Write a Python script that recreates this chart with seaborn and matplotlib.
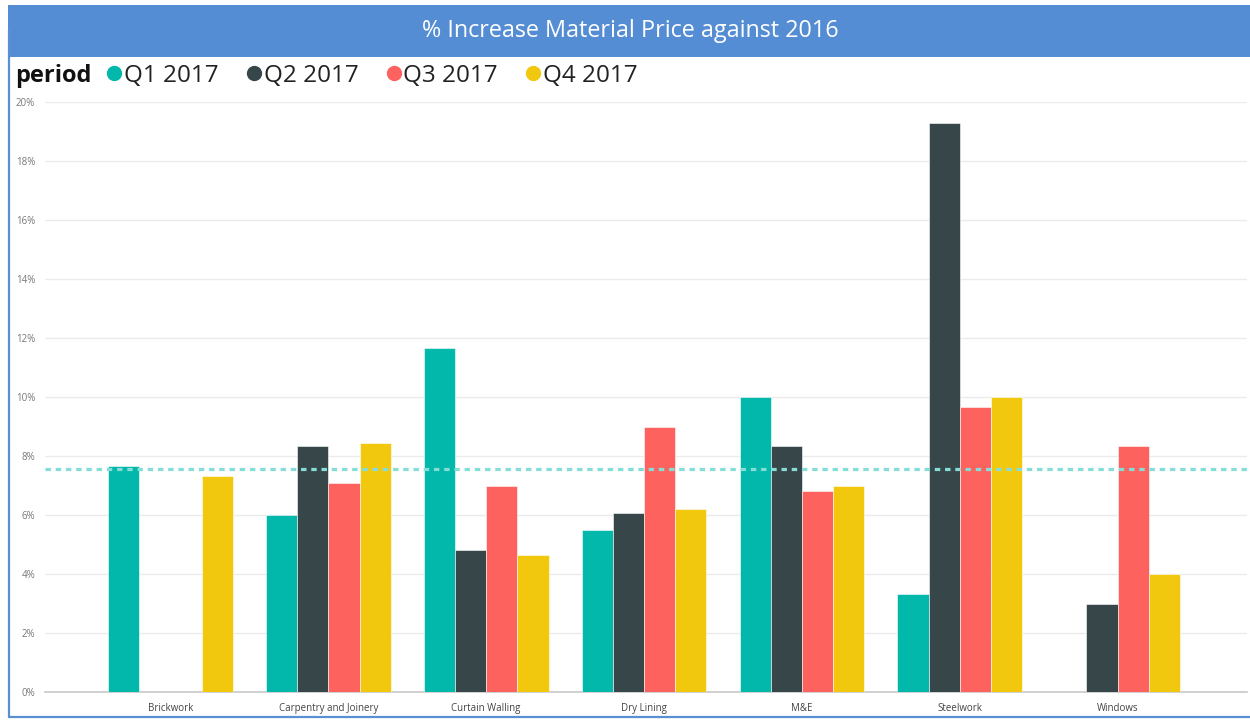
import pandas as pd
import seaborn as sns
import matplotlib.pyplot as plt
from matplotlib.patches import Rectangle
from matplotlib.lines import Line2D

# Daten (in %)
categories = ['Brickwork', 'Carpentry and Joinery', 'Curtain Walling', 'Dry Lining',
              'M&E', 'Steelwork', 'Windows']
periods = ['Q1 2017', 'Q2 2017', 'Q3 2017', 'Q4 2017']
q1_2017 = [7.65, 6.0, 11.67, 5.48, 10.0, 3.33, None]
q2_2017 = [None, 8.33, 4.82, 6.08, 8.33, 19.3, 3.0]
q3_2017 = [None, 7.08, 7.0, 9.0, 6.82, 9.65, 8.33]
q4_2017 = [7.32, 8.43, 4.66, 6.2, 7.0, 10.0, 4.0]
average_line = 7.57
y_ticks = [0, 2, 4, 6, 8, 10, 12, 14, 16, 18, 20]

colors = ['#01B8AA', '#374649', '#FD625E', '#F2C80F']

df = pd.DataFrame({'category': categories, 'Q1 2017': q1_2017, 'Q2 2017': q2_2017,
                   'Q3 2017': q3_2017, 'Q4 2017': q4_2017})
df_melted = df.melt(id_vars='category', value_vars=periods, var_name='period', value_name='value')
df_melted = df_melted.dropna()

sns.set_style('white')
plt.rcParams['font.family'] = ['Open Sans', 'DejaVu Sans']

W, H = 1250, 721
fig = plt.figure(figsize=(W / 100, H / 100), dpi=100)
ax = fig.add_axes([45 / W, 1 - 692 / H, (1247 - 45) / W, (692 - 102) / H])

sns.barplot(data=df_melted, x='category', y='value', hue='period', order=categories,
            hue_order=periods, palette=colors, width=0.79, saturation=1, legend=False,
            edgecolor='white', linewidth=0.4, ax=ax, zorder=3)

# Durchschnittslinie
ax.axhline(average_line, color='#84DDD6', lw=2.3, linestyle=(0, (1.7, 1.5)), zorder=4)

ax.set_ylim(0, 20)
ax.set_xlim(-0.795, 6.82)
ax.set_yticks(y_ticks)
ax.set_yticklabels([f'{t}%' for t in y_ticks], fontsize=7, color='#777777')
ax.tick_params(axis='x', labelsize=7, colors='#444444', length=0, pad=8)
ax.tick_params(axis='y', length=0, pad=7)
ax.grid(axis='y', color='#EBEBEB', lw=1, zorder=0)
ax.set_xlabel('')
ax.set_ylabel('')
for s in ['top', 'right', 'left']:
    ax.spines[s].set_visible(False)
ax.spines['bottom'].set_color('#C8C8C8')
ax.spines['bottom'].set_linewidth(1.2)

# Titelbalken
fig.patches.append(Rectangle((8 / W, 1 - 57 / H), 1 - 8 / W, 52 / H, transform=fig.transFigure,
                             facecolor='#548DD4', edgecolor='none', zorder=0))
fig.text(630 / W, 1 - 31 / H, '% Increase Material Price against 2016', color='white',
         fontsize=16.8, ha='center', va='center')

# Rahmen links und unten
fig.lines.append(Line2D([9 / W, 9 / W], [1 - 30 / H, 1 - 717 / H], transform=fig.transFigure,
                        color='#5B8FD3', lw=1.6))
fig.lines.append(Line2D([9 / W, 1], [1 - 717 / H, 1 - 717 / H], transform=fig.transFigure,
                        color='#5B8FD3', lw=1.6))

# Legende
fig.text(15 / W, 1 - 76 / H, 'period', fontsize=17, fontweight='bold', ha='left', va='center',
         color='#111111')
handles = [Line2D([], [], marker='o', linestyle='none', markersize=10, color=c) for c in colors]
fig.legend(handles, periods, loc='center left', bbox_to_anchor=(107 / W, 1 - 76 / H),
           ncol=4, frameon=False, fontsize=17.5, handlelength=0.6, handletextpad=0.1,
           columnspacing=1.15, borderaxespad=0, borderpad=0, labelcolor='#222222')

plt.savefig('out.png', dpi=100)
